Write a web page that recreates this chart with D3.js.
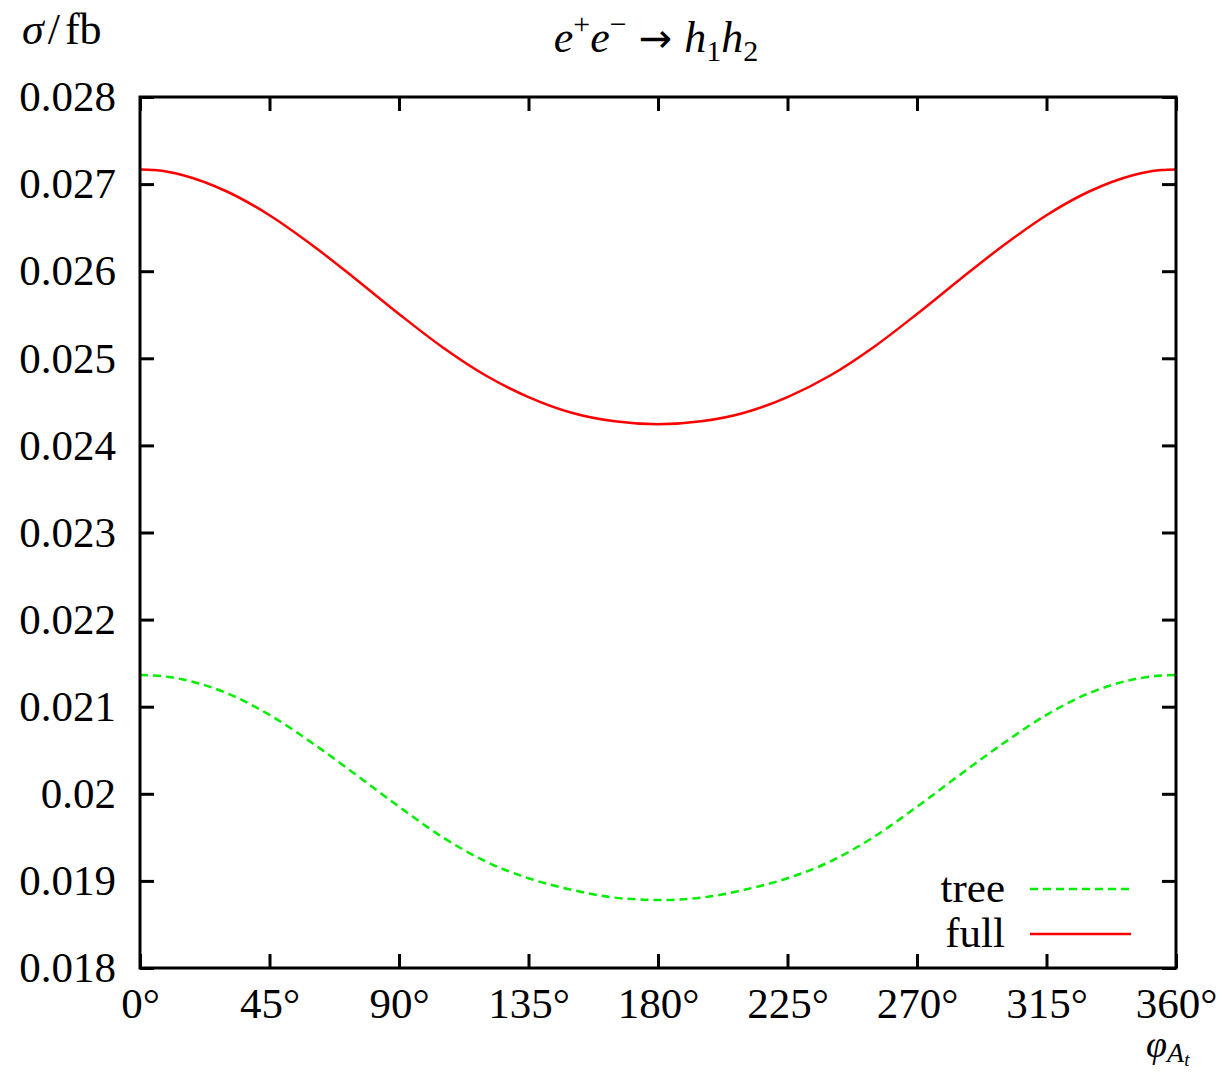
<!DOCTYPE html>
<html lang="en">
<head>
  <meta charset="UTF-8">
  <title>e+e- -> h1h2 cross section</title>
  <style>
    body { margin: 0; background: #fff; }
    svg text { font-family: "Liberation Serif", "DejaVu Serif", serif; fill: #000; }
    .axis path { display: none; }
    .axis line { stroke: #000; stroke-width: 3; }
    .axis text { font-size: 43px; }
  </style>
  <script src="https://d3js.org/d3.v7.min.js"></script>
</head>
<body>
  <div id="chart"></div>

  <script>
    // phase of A_t in degrees
    const phi = [0, 5, 10, 15, 30, 45, 60, 75, 90, 105, 120, 135, 150, 165, 180,
                 195, 210, 225, 240, 255, 270, 285, 300, 315, 330, 345, 350, 355, 360];

    // sigma / fb
    const full = [0.027168, 0.027161, 0.027140, 0.027102, 0.026918, 0.026643, 0.026295,
                  0.025908, 0.025509, 0.025130, 0.024805, 0.024555, 0.024375, 0.024276,
                  0.024242,
                  0.024276, 0.024375, 0.024555, 0.024805, 0.025130, 0.025509, 0.025908,
                  0.026295, 0.026643, 0.026918, 0.027102, 0.027140, 0.027161, 0.027168];
    const tree = [0.021364, 0.021358, 0.021341, 0.021312, 0.021158, 0.020906, 0.020580,
                  0.020220, 0.019852, 0.019505, 0.019225, 0.019030, 0.018898, 0.018808,
                  0.018781,
                  0.018808, 0.018898, 0.019030, 0.019225, 0.019505, 0.019852, 0.020220,
                  0.020580, 0.020906, 0.021158, 0.021312, 0.021341, 0.021358, 0.021364];

    const xTicks = [0, 45, 90, 135, 180, 225, 270, 315, 360];
    const yTicks = [0.018, 0.019, 0.02, 0.021, 0.022, 0.023, 0.024, 0.025, 0.026, 0.027, 0.028];

    const width = 1223, height = 1073;
    const margin = {top: 97, right: 47, bottom: 105, left: 140};
    const iw = width - margin.left - margin.right;
    const ih = height - margin.top - margin.bottom;

    const x = d3.scaleLinear().domain([0, 360]).range([0, iw]);
    const y = d3.scaleLinear().domain([0.018, 0.028]).range([ih, 0]);

    const svg = d3.select("#chart").append("svg")
        .attr("width", width)
        .attr("height", height);

    const g = svg.append("g")
        .attr("transform", `translate(${margin.left},${margin.top})`);

    // axes with inward ticks
    g.append("g")
        .attr("class", "axis")
        .call(d3.axisLeft(y).tickValues(yTicks).tickSize(-14).tickPadding(24)
          .tickFormat(d3.format("~g")));

    g.append("g")
        .attr("class", "axis")
        .attr("transform", `translate(0,${ih})`)
        .call(d3.axisBottom(x).tickValues(xTicks).tickSize(-14).tickPadding(19)
          .tickFormat(d => d + "°"));

    g.append("g")
        .attr("class", "axis")
        .call(d3.axisTop(x).tickValues(xTicks).tickSize(-14).tickFormat(""));

    g.append("g")
        .attr("class", "axis")
        .attr("transform", `translate(${iw},0)`)
        .call(d3.axisRight(y).tickValues(yTicks).tickSize(-14).tickFormat(""));

    const line = d3.line()
        .x((d, i) => x(phi[i]))
        .y(d => y(d))
        .curve(d3.curveMonotoneX);

    g.append("path")
        .datum(tree)
        .attr("fill", "none")
        .attr("stroke", "#00ee00")
        .attr("stroke-width", 2.5)
        .attr("stroke-dasharray", "8,5")
        .attr("d", line);

    g.append("path")
        .datum(full)
        .attr("fill", "none")
        .attr("stroke", "#ff0000")
        .attr("stroke-width", 2.5)
        .attr("d", line);

    // frame
    g.append("rect")
        .attr("width", iw)
        .attr("height", ih)
        .attr("fill", "none")
        .attr("stroke", "#000")
        .attr("stroke-width", 3);

    // legend
    const legend = [
      {name: "tree", color: "#00ee00", dash: "8,5"},
      {name: "full", color: "#ff0000", dash: null}
    ];
    const lg = svg.append("g");
    legend.forEach((d, i) => {
      const ly = 889 + i * 45;
      lg.append("text")
          .attr("x", 1005)
          .attr("y", ly + 13)
          .attr("text-anchor", "end")
          .style("font-size", "43px")
          .text(d.name);
      lg.append("line")
          .attr("x1", 1030).attr("x2", 1131)
          .attr("y1", ly).attr("y2", ly)
          .attr("stroke", d.color)
          .attr("stroke-width", 2.5)
          .attr("stroke-dasharray", d.dash);
    });

    // y label: sigma/fb
    const yl = svg.append("text")
        .attr("x", 22)
        .attr("y", 44)
        .style("font-size", "44px");
    yl.append("tspan").style("font-style", "italic").text("σ");
    yl.append("tspan").attr("dx", 4).text("/");
    yl.append("tspan").attr("dx", 5).text("fb");

    // title: e+e- -> h1h2
    const t = svg.append("text")
        .attr("x", 656)
        .attr("y", 52)
        .attr("text-anchor", "middle")
        .style("font-size", "44px");
    t.append("tspan").style("font-style", "italic").text("e");
    t.append("tspan").attr("dy", -18).style("font-size", "30px").text("+");
    t.append("tspan").attr("dy", 18).style("font-style", "italic").text("e");
    t.append("tspan").attr("dy", -18).style("font-size", "30px").text("−");
    t.append("tspan").attr("dy", 18).attr("dx", 12)
        .style("font-family", "DejaVu Sans").style("font-size", "40px").text("→");
    t.append("tspan").attr("dx", 12).style("font-style", "italic").text("h");
    t.append("tspan").attr("dy", 9).style("font-size", "30px").text("1");
    t.append("tspan").attr("dy", -9).style("font-style", "italic").text("h");
    t.append("tspan").attr("dy", 9).style("font-size", "30px").text("2");

    // x label: phi_{A_t}
    const xl = svg.append("text")
        .attr("x", 1146)
        .attr("y", 1057)
        .style("font-size", "38px");
    xl.append("tspan").style("font-style", "italic").text("φ");
    xl.append("tspan").attr("dy", 5).style("font-style", "italic").style("font-size", "28px").text("A");
    xl.append("tspan").attr("dy", 4).style("font-style", "italic").style("font-size", "19px").text("t");
  </script>
</body>
</html>
